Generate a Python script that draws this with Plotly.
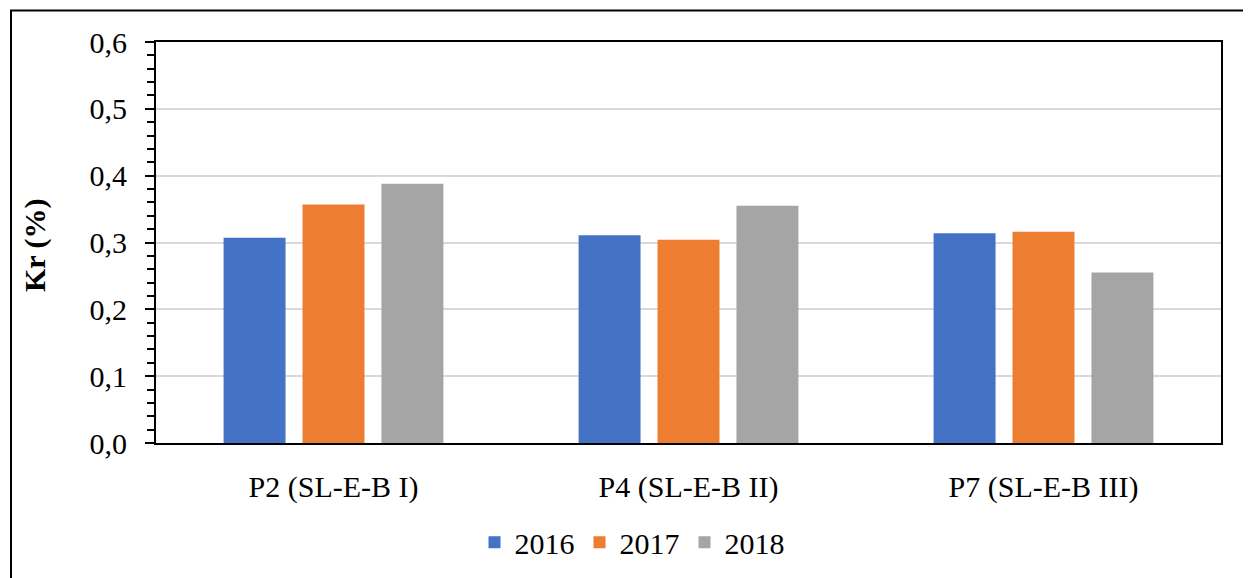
import plotly.graph_objects as go

categories = ["P2 (SL-E-B I)", "P4 (SL-E-B II)", "P7 (SL-E-B III)"]
years = ["2016", "2017", "2018"]
values_2016 = [0.307, 0.311, 0.314]
values_2017 = [0.357, 0.304, 0.316]
values_2018 = [0.388, 0.355, 0.255]
colors = ["#4472C4", "#ED7D31", "#A5A5A5"]

OFF = 8  # page body margin
W, H = 1251 - OFF, 578 - OFF
L, R, T, B = 156 - OFF, 1221 - OFF, 41.5 - OFF, 443.5 - OFF

def px_x(p):
    return (p - OFF - L) / (R - L)

def px_y(p):
    return (B - (p - OFF)) / (B - T)

fig = go.Figure()
for name, vals, col in zip(years, [values_2016, values_2017, values_2018], colors):
    fig.add_trace(go.Bar(x=categories, y=vals, name=name, marker_color=col,
                         marker_line_width=0))

font = dict(family="Liberation Serif, Times New Roman, serif", color="black")
FS = 30

fig.update_layout(
    width=W, height=H,
    margin=dict(l=L, r=W - R, t=T, b=H - B, autoexpand=False),
    paper_bgcolor="white", plot_bgcolor="white",
    barmode="group", bargap=0.333, bargroupgap=0.215,
    separators=",.",
    font=dict(**font, size=FS),
    showlegend=True,
    legend=dict(orientation="h", x=px_x(632), y=px_y(543), xanchor="center", yanchor="middle",
                font=dict(**font, size=FS), itemwidth=30, traceorder="normal"),
    xaxis=dict(showline=True, linecolor="black", linewidth=2, mirror=True,
               ticks="", ticklabelstandoff=16, showgrid=False,
               tickfont=dict(**font, size=FS)),
    yaxis=dict(range=[0, 0.6], dtick=0.1, tickformat=".1f",
               showline=True, linecolor="black", linewidth=2, mirror=True,
               ticks="outside", ticklen=9, tickwidth=2, tickcolor="black",
               minor=dict(dtick=0.02, ticks="outside", ticklen=7, tickwidth=2, tickcolor="black"),
               showgrid=True, gridcolor="#D9D9D9", gridwidth=2, zeroline=False,
               ticklabelstandoff=12, tickfont=dict(**font, size=FS)),
    annotations=[dict(text="<b>Kr (%)</b>", textangle=-90, xref="paper", yref="paper",
                      x=px_x(35), y=px_y(245), xanchor="center", yanchor="middle",
                      showarrow=False, font=dict(**font, size=FS))],
    shapes=[dict(type="rect", xref="paper", yref="paper",
                 x0=px_x(11), x1=px_x(1249), y0=px_y(600), y1=px_y(10),
                 line=dict(color="black", width=2), fillcolor="rgba(0,0,0,0)", layer="below")],
)

fig.write_html("out.html")
